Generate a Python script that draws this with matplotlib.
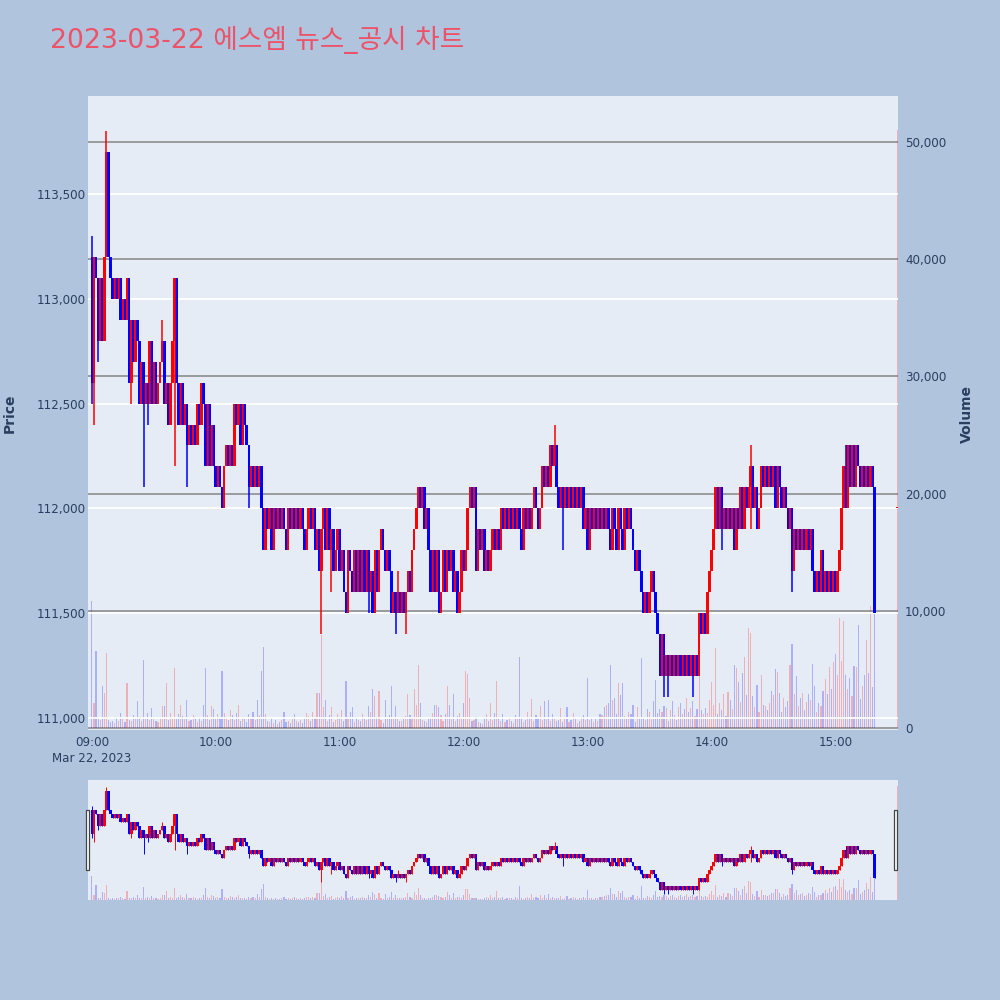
import numpy as np
import matplotlib
matplotlib.use("Agg")
import matplotlib.pyplot as plt
from matplotlib.patches import Rectangle

# per-minute closes, in units of 100 won (1126 -> 112,600)
first_open = 1132
close_09 = [1126, 1132, 1131, 1128, 1131, 1128, 1132, 1137, 1132, 1131,
            1130, 1131, 1130, 1131, 1129, 1130, 1129, 1131, 1126, 1129,
            1127, 1129, 1128, 1125, 1127, 1125, 1126, 1125, 1128, 1125,
            1127, 1125, 1126, 1127, 1128, 1125, 1126, 1124, 1126, 1128,
            1131, 1126, 1124, 1126, 1124, 1125, 1123, 1124, 1123, 1124,
            1123, 1125, 1124, 1126, 1125, 1122, 1125, 1122, 1124, 1122]
close_10 = [1121, 1122, 1121, 1120, 1122, 1123, 1122, 1123, 1122, 1125,
            1124, 1125, 1123, 1125, 1124, 1123, 1121, 1122, 1121, 1122,
            1121, 1122, 1120, 1118, 1120, 1119, 1120, 1118, 1120, 1119,
            1120, 1119, 1120, 1119, 1118, 1120, 1119, 1120, 1119, 1120,
            1119, 1120, 1119, 1118, 1119, 1120, 1119, 1120, 1118, 1119,
            1117, 1119, 1120, 1118, 1120, 1118, 1119, 1117, 1118, 1119]
close_11 = [1117, 1118, 1116, 1115, 1118, 1117, 1116, 1118, 1116, 1118,
            1116, 1118, 1116, 1118, 1116, 1117, 1115, 1118, 1116, 1118,
            1119, 1118, 1117, 1118, 1117, 1115, 1116, 1115, 1116, 1115,
            1116, 1115, 1116, 1117, 1116, 1118, 1119, 1120, 1121, 1120,
            1121, 1119, 1120, 1118, 1116, 1118, 1116, 1118, 1115, 1116,
            1118, 1116, 1118, 1117, 1118, 1116, 1117, 1115, 1116, 1118]
close_12 = [1117, 1118, 1120, 1121, 1120, 1121, 1117, 1119, 1118, 1119,
            1117, 1118, 1117, 1118, 1119, 1118, 1119, 1118, 1120, 1119,
            1120, 1119, 1120, 1119, 1120, 1119, 1120, 1119, 1118, 1120,
            1119, 1120, 1119, 1120, 1121, 1120, 1119, 1120, 1122, 1121,
            1122, 1121, 1123, 1122, 1123, 1121, 1120, 1121, 1120, 1121,
            1120, 1121, 1120, 1121, 1120, 1121, 1120, 1121, 1119, 1120]
close_13 = [1118, 1120, 1119, 1120, 1119, 1120, 1119, 1120, 1119, 1120,
            1119, 1118, 1120, 1119, 1118, 1120, 1119, 1118, 1120, 1119,
            1120, 1119, 1118, 1117, 1118, 1117, 1116, 1115, 1116, 1115,
            1116, 1117, 1116, 1115, 1114, 1112, 1114, 1112, 1113, 1112,
            1113, 1112, 1113, 1112, 1113, 1112, 1113, 1112, 1113, 1112,
            1113, 1112, 1113, 1112, 1115, 1114, 1115, 1114, 1116, 1117]
close_14 = [1118, 1119, 1121, 1119, 1121, 1119, 1120, 1119, 1120, 1119,
            1120, 1118, 1120, 1119, 1121, 1119, 1121, 1120, 1121, 1122,
            1120, 1121, 1119, 1120, 1122, 1121, 1122, 1121, 1122, 1121,
            1122, 1120, 1122, 1121, 1120, 1121, 1120, 1119, 1120, 1117,
            1119, 1118, 1119, 1118, 1119, 1118, 1119, 1118, 1119, 1117,
            1116, 1117, 1116, 1118, 1116, 1117, 1116, 1117, 1116, 1117]
close_15 = [1116, 1117, 1118, 1120, 1122, 1120, 1123, 1121, 1123, 1121,
            1123, 1122, 1121, 1122, 1121, 1122, 1121, 1122, 1121, 1115]

# wicks that reach past the body (minute -> price, 100 won units)
wick_high = {0: 1133, 7: 1138, 34: 1129, 148: 1117, 224: 1124, 319: 1123, 365: 1123}
wick_low = {0: 1125, 1: 1124, 3: 1127, 19: 1125, 25: 1121, 27: 1124, 40: 1122,
            46: 1121, 76: 1120, 111: 1114, 116: 1116, 134: 1115, 147: 1114,
            152: 1114, 228: 1118, 277: 1111, 279: 1111, 291: 1111, 305: 1118,
            319: 1119, 339: 1116}

vol_09 = [10800, 2100, 6600, 900, 700, 3600, 3000, 6400, 700, 500,
          600, 400, 900, 600, 1300, 800, 500, 3800, 700, 600,
          1100, 900, 2300, 800, 600, 5800, 900, 1300, 700, 1700,
          800, 600, 500, 900, 1900, 1900, 3800, 700, 1300, 900,
          5100, 800, 1200, 2000, 1000, 900, 2400, 600, 700, 1100,
          800, 500, 900, 600, 2000, 5100, 1100, 700, 1900, 1600]
vol_10 = [800, 1200, 900, 4900, 1300, 900, 700, 1500, 1100, 700,
          1300, 2000, 600, 900, 800, 500, 1200, 900, 1400, 700,
          2400, 1100, 4900, 6900, 1200, 600, 500, 900, 400, 700,
          300, 500, 700, 1400, 500, 600, 400, 800, 1200, 600,
          500, 700, 400, 800, 1300, 1000, 600, 1400, 900, 3000,
          3000, 7900, 1800, 2400, 600, 1100, 1800, 500, 700, 1200]
vol_11 = [900, 1500, 600, 4000, 800, 1400, 1800, 500, 900, 700,
          600, 1200, 800, 700, 1900, 1400, 3300, 2700, 900, 3200,
          700, 400, 2400, 900, 1100, 3600, 900, 1900, 800, 600,
          600, 800, 1000, 2900, 1100, 900, 3300, 2000, 5400, 2100,
          700, 600, 500, 800, 900, 1300, 2000, 2000, 1800, 1100,
          600, 1200, 3600, 2000, 900, 2900, 600, 1000, 1300, 900]
vol_12 = [2100, 4900, 4600, 2600, 600, 700, 900, 500, 400, 300,
          800, 1200, 600, 2100, 700, 1300, 4000, 900, 600, 1200,
          500, 700, 900, 600, 400, 1100, 800, 6100, 900, 500,
          700, 1400, 800, 2500, 600, 1100, 900, 1900, 700, 2300,
          800, 2400, 600, 1200, 900, 600, 700, 1700, 500, 800,
          1800, 500, 700, 1300, 900, 400, 600, 800, 1100, 700]
vol_13 = [4300, 700, 900, 500, 800, 600, 1200, 1100, 1800, 2000,
          2100, 5400, 2400, 2600, 1200, 3800, 2800, 3800, 1000, 900,
          1400, 1200, 2000, 500, 1800, 800, 6000, 900, 700, 1600,
          1400, 900, 2300, 4100, 1300, 1600, 1400, 1900, 1700, 600,
          1500, 2300, 1100, 700, 1800, 2100, 1200, 1600, 2600, 1400,
          1700, 2300, 1000, 1600, 4500, 1500, 1200, 1700, 1300, 2400]
vol_14 = [3900, 2000, 6800, 1200, 2100, 1500, 2900, 1000, 3100, 2400,
          1600, 5400, 5100, 3900, 2200, 4700, 6100, 2800, 8500, 8100,
          2700, 1800, 3700, 1400, 4500, 2000, 1900, 1500, 2100, 3200,
          2800, 5000, 4800, 3000, 1400, 2600, 1800, 2300, 5400, 7200,
          2900, 4400, 1900, 2600, 3000, 1500, 2200, 2900, 2400, 5500,
          3600, 1400, 2100, 1900, 3200, 4200, 2900, 5200, 3300, 5600]
vol_15 = [6300, 4500, 9400, 5700, 9100, 4500, 3300, 4300, 2700, 5300,
          5200, 8800, 2500, 3600, 4500, 7500, 4700, 10400, 3500, 9900]

# 15:30 closing auction: minute, price, volume
auction_min, auction_price, auction_vol = 390, 1120, 51000

x_labels = ["09:00\nMar 22, 2023", "10:00", "11:00", "12:00", "13:00", "14:00", "15:00"]
title = "2023-03-22 에스엠 뉴스_공시 차트"

# ---- assemble OHLC ----
closes = np.array(close_09 + close_10 + close_11 + close_12 + close_13 + close_14 + close_15, float)
vols = np.array(vol_09 + vol_10 + vol_11 + vol_12 + vol_13 + vol_14 + vol_15, float)
opens = np.r_[first_open, closes[:-1]]
mins = np.arange(len(closes), dtype=float)
highs = np.maximum(opens, closes)
lows = np.minimum(opens, closes)
for k, v in wick_high.items():
    highs[k] = max(highs[k], v)
for k, v in wick_low.items():
    lows[k] = min(lows[k], v)

mins = np.r_[mins, auction_min]
opens = np.r_[opens, auction_price] * 100
closes = np.r_[closes, auction_price] * 100
highs = np.r_[highs, auction_price] * 100
lows = np.r_[lows, auction_price] * 100
vols = np.r_[vols, auction_vol]

up = closes >= opens
cols = np.where(up, "#FF0000", "#0000FF")
vcols = [(1, 0, 0, 0.25) if u else (0, 0, 1, 0.25) for u in up]

XLIM = (-1.9, 390.3)
PLIM = (110943, 113967)
VLIM = (-170, 53925)
BG = "#E5ECF6"
TXT = "#2a3f5f"


def draw(ax_p, ax_v, wick_lw, body_w):
    ax_v.bar(mins, vols, width=0.55, color=vcols, linewidth=0)
    ax_p.vlines(mins, lows, highs, colors=cols, lw=wick_lw)
    body = np.maximum(np.abs(closes - opens), 6)
    ax_p.bar(mins, body, bottom=np.minimum(opens, closes), width=body_w,
             color=cols, linewidth=0, antialiased=False)
    ax_p.set_zorder(ax_v.get_zorder() + 1)
    ax_p.patch.set_visible(False)
    ax_v.patch.set_visible(True)
    ax_v.set_facecolor(BG)
    for a in (ax_p, ax_v):
        a.set_xlim(*XLIM)
        for s in a.spines.values():
            s.set_visible(False)
    ax_p.set_ylim(*PLIM)
    ax_v.set_ylim(*VLIM)


fig = plt.figure(figsize=(10, 10), dpi=100, facecolor="#B0C4DE")

# main chart
ax = fig.add_axes([0.088, 0.270, 0.810, 0.634])
axv = ax.twinx()
draw(ax, axv, 1.1, 1.3)

ax.set_yticks(np.arange(111000, 113501, 500))
ax.set_yticklabels([f"{v:,}" for v in range(111000, 113501, 500)])
axv.set_yticks(np.arange(0, 50001, 10000))
axv.set_yticklabels([f"{v:,}" for v in range(0, 50001, 10000)])
ax.set_xticks(np.arange(0, 361, 60))
ax.set_xticklabels(x_labels)
ax.grid(axis="y", color="white", lw=1.3)
axv.grid(axis="y", color="#8c8c8c", lw=1.2)
ax.set_axisbelow(True)
axv.set_axisbelow(True)
ax.tick_params(axis="y", length=0, pad=1.5, labelsize=8.6, labelcolor=TXT)
axv.tick_params(axis="y", length=0, pad=5, labelsize=8.6, labelcolor=TXT)
ax.tick_params(axis="x", length=0, pad=4.3, labelsize=8.6, labelcolor=TXT)
for t in ax.get_xticklabels():
    t.set_linespacing(1.3)
    t.set_verticalalignment("top")

fig.text(0.010, 0.587, "Price", rotation=90, ha="center", va="center",
         fontsize=10, fontweight="bold", color=TXT)
fig.text(0.967, 0.586, "Volume", rotation=90, ha="center", va="center",
         fontsize=10, fontweight="bold", color=TXT)
fig.text(0.050, 0.960, title, ha="left", va="center", fontsize=19.2,
         color="#EC5369", family=["DejaVu Sans", "Noto Sans CJK KR"])

# range slider
axs = fig.add_axes([0.088, 0.100, 0.810, 0.120])
axsv = axs.twinx()
draw(axs, axsv, 0.7, 1.3)
for a in (axs, axsv):
    a.set_xticks([])
    a.set_yticks([])

for hx in (0.0862, 0.8943):
    fig.patches.append(Rectangle((hx, 0.130), 0.0030, 0.060, transform=fig.transFigure,
                                 facecolor="white", edgecolor="#444444", lw=0.9, zorder=10))

fig.savefig("out.png", dpi=100, facecolor=fig.get_facecolor())
